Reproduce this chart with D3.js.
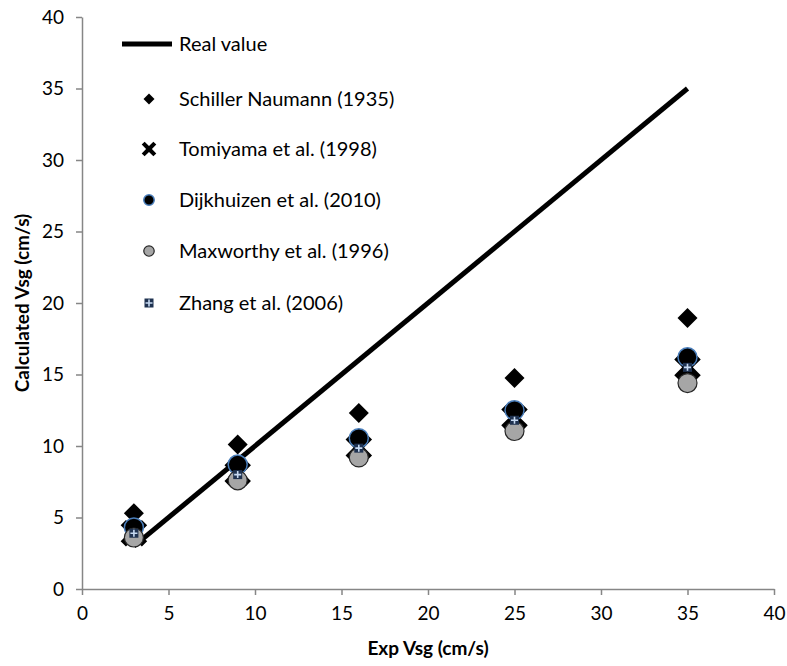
<!DOCTYPE html>
<html>
<head>
<meta charset="utf-8">
<script src="https://cdn.jsdelivr.net/npm/d3@7"></script>
<style>
  html, body { margin: 0; padding: 0; background: #fff; }
  svg { display: block; }
  text { font-family: Lato, "Open Sans", sans-serif; fill: #000; }
</style>
</head>
<body>
<svg id="chart" width="787" height="666"></svg>
<script>
// ---- data ----
const expVsg     = [3, 9, 16, 25, 35];
const schiller   = [5.3, 10.1, 12.3, 14.75, 18.95];
const tomiyama   = [3.9, 8.1, 9.9, 12.0, 15.5];
const dijkhuizen = [4.3, 8.7, 10.55, 12.5, 16.2];
const maxworthy  = [3.6, 7.6, 9.2, 11.05, 14.4];
const zhang      = [3.9, 8.0, 9.85, 11.8, 15.5];
const realX      = [3, 35];
const realY      = [3, 35];
const xTicks     = [0, 5, 10, 15, 20, 25, 30, 35, 40];
const yTicks     = [0, 5, 10, 15, 20, 25, 30, 35, 40];
const seriesNames = ["Schiller Naumann (1935)", "Tomiyama et al. (1998)", "Dijkhuizen et al. (2010)", "Maxworthy et al. (1996)", "Zhang et al. (2006)"];
const lineName   = "Real value";
const xTitle     = "Exp Vsg (cm/s)";
const yTitle     = "Calculated Vsg (cm/s)";

const svg = d3.select("#chart");
const x = d3.scaleLinear().domain([0, 40]).range([82, 774]);
const y = d3.scaleLinear().domain([0, 40]).range([589, 17]);
const axisColor = "#868686";

// axes
const gx = svg.append("g").attr("transform", `translate(0,${y(0)})`)
  .call(d3.axisBottom(x).tickValues(xTicks).tickSize(6).tickSizeOuter(0).tickPadding(12));
const gy = svg.append("g").attr("transform", `translate(${x(0)},0)`)
  .call(d3.axisLeft(y).tickValues(yTicks).tickSize(6).tickSizeOuter(0).tickPadding(12));
[gx, gy].forEach(g => {
  g.select(".domain").attr("stroke", axisColor).attr("stroke-width", 1.5);
  g.selectAll(".tick line").attr("stroke", axisColor).attr("stroke-width", 1.5);
  g.selectAll(".tick text").style("font-family", "Lato").style("font-size", "19px").attr("fill", "#000");
});

// symbol paths
function diamondPath(h) { return `M0,${-h}L${h},0L0,${h}L${-h},0Z`; }
function xPath(h, t) {
  const a = t / 2;
  const p = [[-a,-h],[a,-h],[a,-a],[h,-a],[h,a],[a,a],[a,h],[-a,h],[-a,a],[-h,a],[-h,-a],[-a,-a]];
  const c = Math.SQRT1_2;
  return "M" + p.map(([u,v]) => [(u - v) * c, (u + v) * c].join(",")).join("L") + "Z";
}
function drawSchiller(g, s) { g.append("path").attr("d", diamondPath(10 * s)).attr("fill", "#000"); }
function drawTomiyama(g, s) { g.append("path").attr("d", xPath(15 * s, 7.5 * s)).attr("fill", "#000"); }
function drawDijk(g, s) { g.append("circle").attr("r", 9.5 * s).attr("fill", "#000").attr("stroke", "#4a7ebb").attr("stroke-width", 1.5); }
function drawMax(g, s) { g.append("circle").attr("r", 9.5 * s).attr("fill", "#a6a6a6").attr("stroke", "#262626").attr("stroke-width", 1.2); }
function drawZhang(g, s) {
  const h = 4.5 * s;
  g.append("rect").attr("x", -h).attr("y", -h).attr("width", 2 * h).attr("height", 2 * h).attr("fill", "#1f3250");
  g.append("path").attr("d", `M${-h + 1},0H${h - 1}M0,${-h + 1}V${h - 1}`).attr("stroke", "#c6d9f1").attr("stroke-width", 1.6);
}

// real value line
svg.append("path")
  .datum(realX.map((v, i) => [v, realY[i]]))
  .attr("d", d3.line().x(d => x(d[0])).y(d => y(d[1])))
  .attr("fill", "none").attr("stroke", "#000").attr("stroke-width", 5);

const series = [
  { vals: schiller, draw: drawSchiller },
  { vals: tomiyama, draw: drawTomiyama },
  { vals: dijkhuizen, draw: drawDijk },
  { vals: maxworthy, draw: drawMax },
  { vals: zhang, draw: drawZhang }
];
series.forEach(s => {
  s.vals.forEach((v, i) => {
    const g = svg.append("g").attr("transform", `translate(${x(expVsg[i])},${y(v)})`);
    s.draw(g, 1);
  });
});

// legend
const leg = svg.append("g");
leg.append("line").attr("x1", 122).attr("x2", 172).attr("y1", 44).attr("y2", 44).attr("stroke", "#000").attr("stroke-width", 5);
leg.append("text").attr("x", 179).attr("y", 44).attr("dy", "0.35em").style("font-size", "20px").text(lineName);
const legY = [99, 149, 200, 251, 303];
series.forEach((s, i) => {
  const g = leg.append("g").attr("transform", `translate(149,${legY[i]})`);
  s.draw(g, i === 4 ? 1 : 0.55);
  leg.append("text").attr("x", 179).attr("y", legY[i]).attr("dy", "0.35em").style("font-size", "20px").text(seriesNames[i]);
});

// axis titles
svg.append("text").attr("x", (x(0) + x(40)) / 2).attr("y", 648).attr("dy", "0.35em")
  .attr("text-anchor", "middle").style("font-size", "19px").style("font-weight", "bold").text(xTitle);
svg.append("text").attr("transform", `translate(22,${(y(0) + y(40)) / 2}) rotate(-90)`).attr("dy", "0.35em")
  .attr("text-anchor", "middle").style("font-size", "19px").style("font-weight", "bold").text(yTitle);
</script>
</body>
</html>
